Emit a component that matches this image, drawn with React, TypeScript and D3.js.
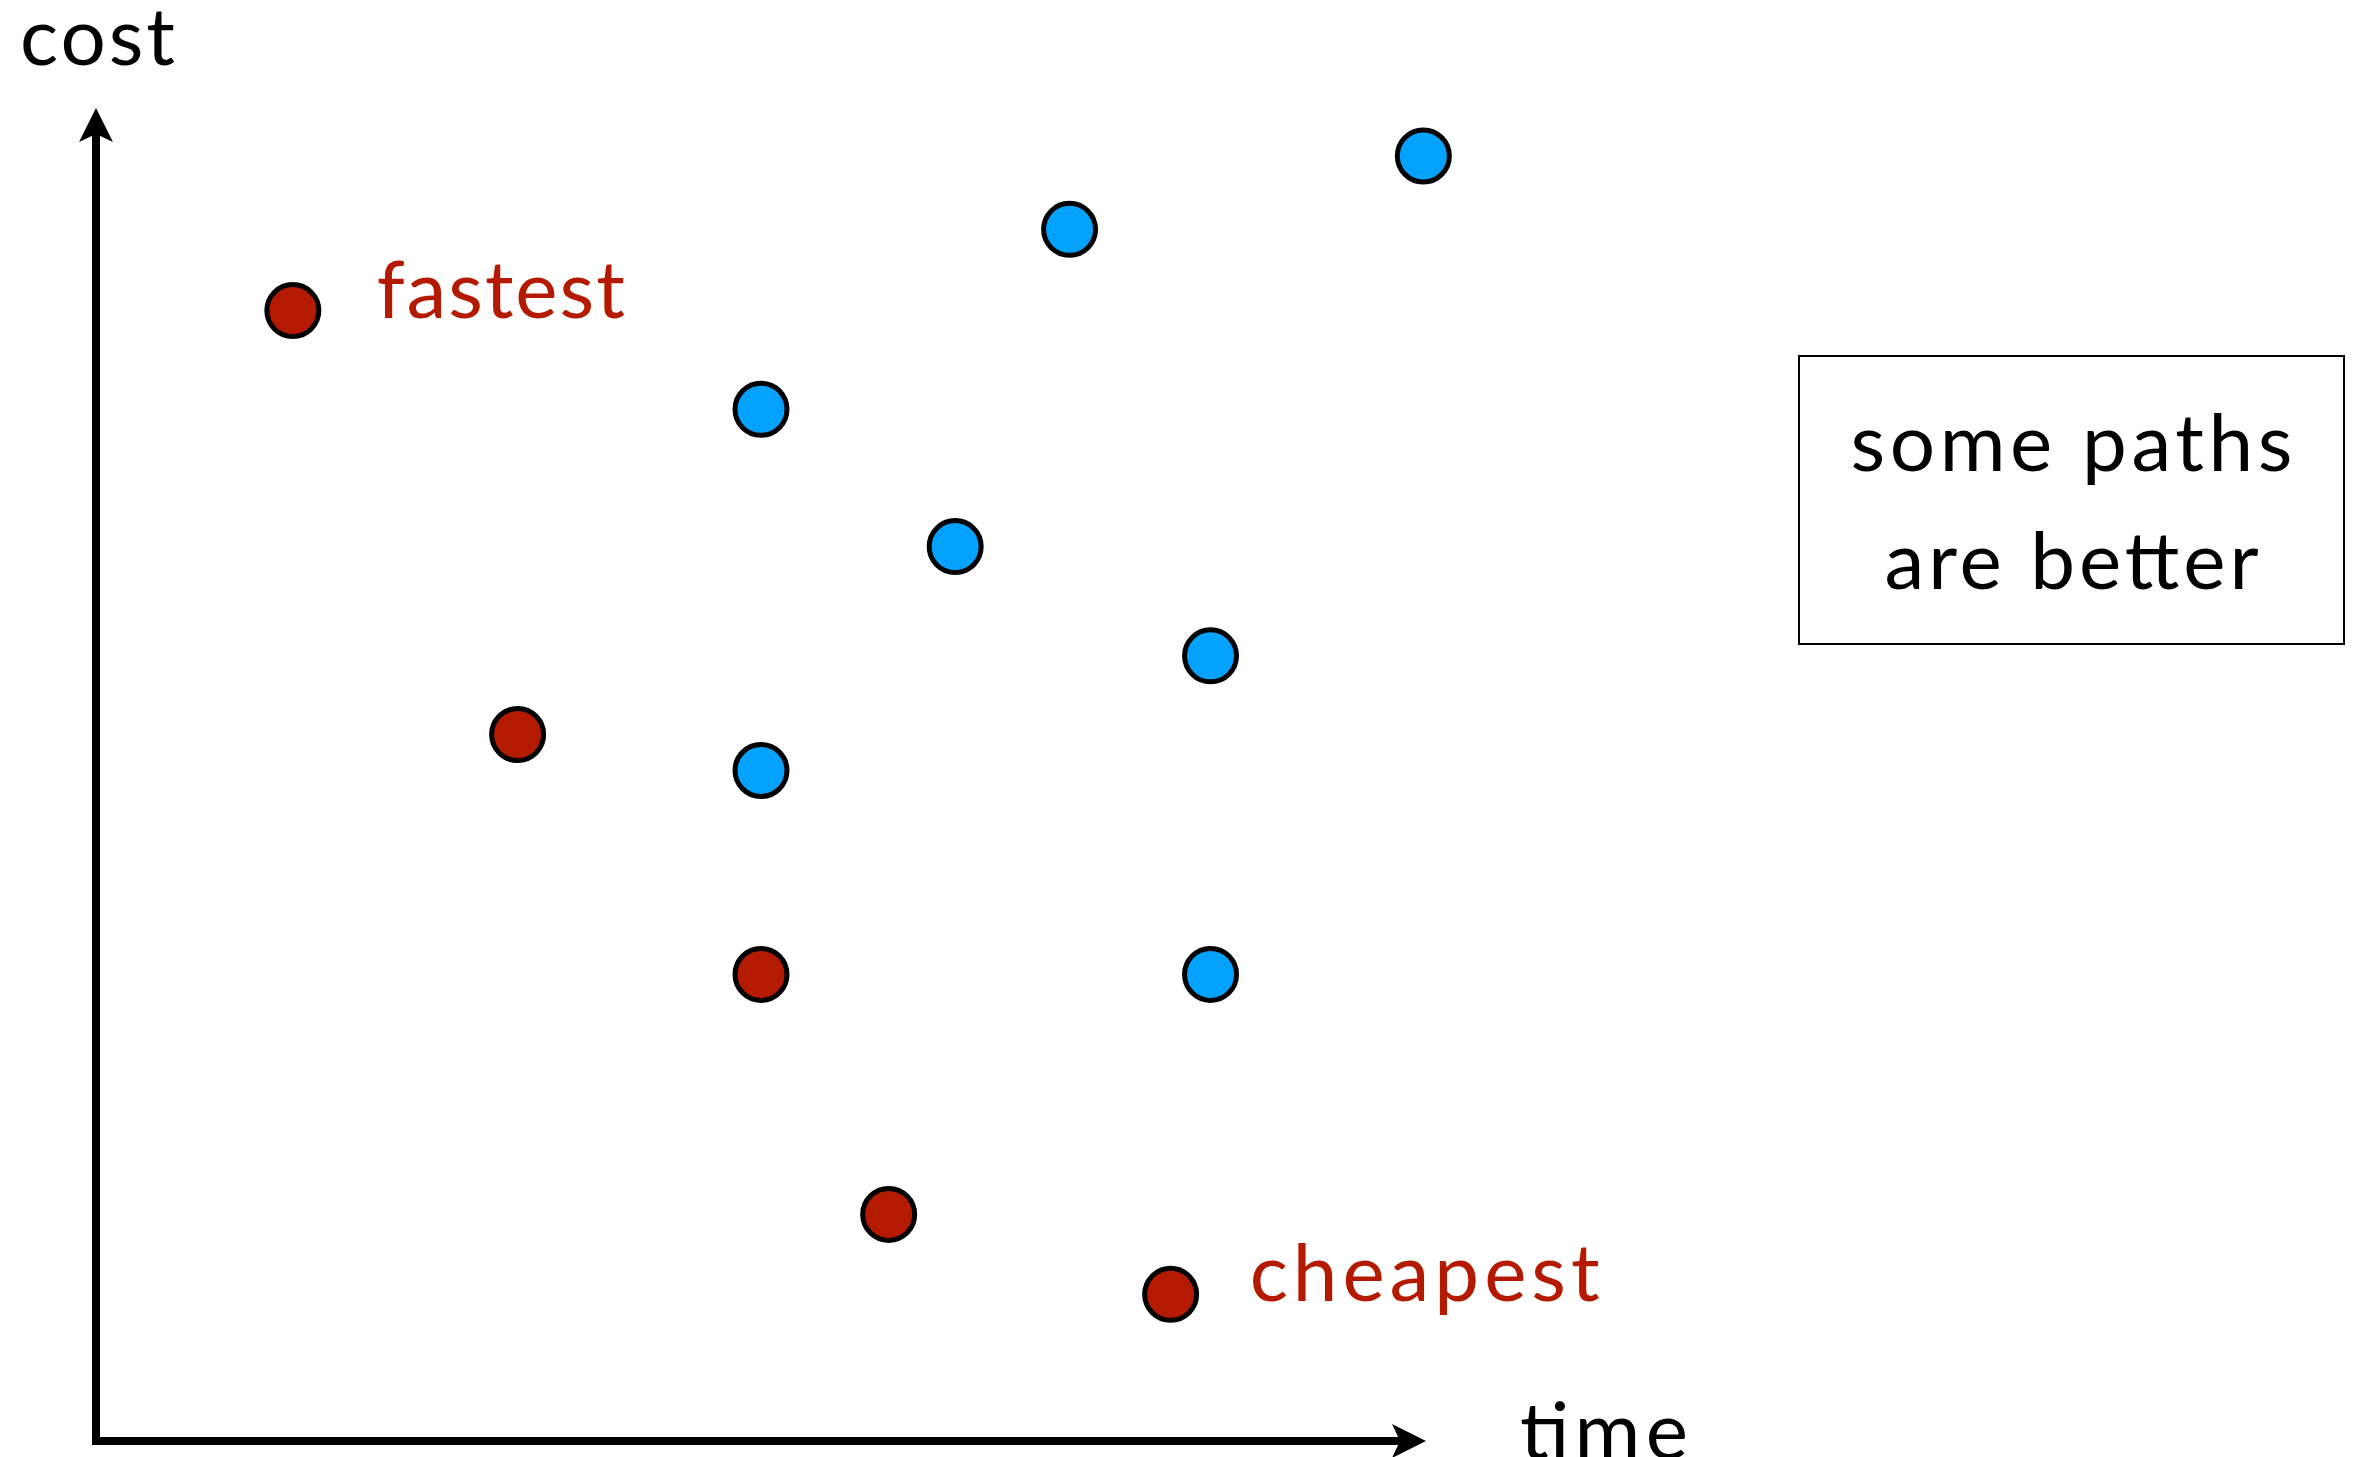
import React from "react";
import * as d3 from "d3";

// Data (abstract units: time 0-100, cost 0-100)
const redTime = [14.8, 31.7, 50.0, 59.6, 80.8];
const redCost = [84.8, 53.0, 35.0, 17.0, 11.0];
const blueTime = [99.8, 73.2, 50.0, 64.6, 83.8, 50.0, 83.8];
const blueCost = [96.4, 90.9, 77.4, 67.1, 58.9, 50.3, 35.0];
const labels = [
  { text: "fastest", idx: 0 },
  { text: "cheapest", idx: 4 },
];
const boxLines = ["some paths", "are better"];
const axisLabels = { x: "time", y: "cost" };

const W = 2358;
const H = 1457;
const RED = "#B41A00";
const BLUE = "#02A2FD";
const FONT = "Lato, 'Noto Sans', sans-serif";

// measured widths of the words (for letter spacing to match the original typeface)
const textWidths: Record<string, number> = {
  cost: 155,
  time: 168,
  fastest: 248,
  cheapest: 350,
  "some paths": 442,
  "are better": 374,
};

export default function App() {
  const x = d3.scaleLinear().domain([0, 100]).range([96, 1426]);
  const y = d3.scaleLinear().domain([0, 100]).range([1441, 108]);
  const x0 = x(0);
  const y0 = y(0);
  const xTip = x(100);
  const yTip = y(100);
  const head = 34;
  const half = 17;
  const notch = 8;

  const yArrow = `M${x0},${yTip} L${x0 + half},${yTip + head} L${x0},${yTip + head - notch} L${x0 - half},${yTip + head} Z`;
  const xArrow = `M${xTip},${y0} L${xTip - head},${y0 - half} L${xTip - head + notch},${y0} L${xTip - head},${y0 + half} Z`;

  const r = 26;
  const fs = 80;

  const box = { x: 1799, y: 356, w: 545, h: 288 };

  return (
    <svg
      width={W}
      height={H}
      style={{ position: "absolute", left: 0, top: 0, background: "#fff" }}
    >
      <rect x={0} y={0} width={W} height={H} fill="#fff" />
      {/* axes */}
      <line x1={x0} y1={y0 + 4} x2={x0} y2={yTip + head - notch} stroke="#000" strokeWidth={8} />
      <line x1={x0 - 4} y1={y0} x2={xTip - head + notch} y2={y0} stroke="#000" strokeWidth={8} />
      <path d={yArrow} fill="#000" />
      <path d={xArrow} fill="#000" />
      <text x={20} y={65} fontFamily={FONT} fontSize={fs} fill="#000" textLength={textWidths.cost} lengthAdjust="spacing">
        {axisLabels.y}
      </text>
      <text x={1520} y={1459} fontFamily={FONT} fontSize={fs} fill="#000" textLength={textWidths.time} lengthAdjust="spacing">
        {axisLabels.x}
      </text>

      {/* blue points */}
      {blueTime.map((t, i) => (
        <circle key={"b" + i} cx={x(t)} cy={y(blueCost[i])} r={r} fill={BLUE} stroke="#000" strokeWidth={5} />
      ))}
      {/* red points */}
      {redTime.map((t, i) => (
        <circle key={"r" + i} cx={x(t)} cy={y(redCost[i])} r={r} fill={RED} stroke="#000" strokeWidth={5} />
      ))}
      {labels.map((l, i) => (
        <text
          key={l.text}
          x={x(redTime[l.idx]) + (i === 0 ? 84 : 79)}
          y={y(redCost[l.idx]) + 7}
          fontFamily={FONT}
          fontSize={fs}
          fill={RED}
          textLength={textWidths[l.text]}
          lengthAdjust="spacing"
        >
          {l.text}
        </text>
      ))}

      {/* annotation box */}
      <rect x={box.x} y={box.y} width={box.w} height={box.h} fill="none" stroke="#000" strokeWidth={2} />
      {boxLines.map((s, i) => (
        <text
          key={s}
          x={box.x + box.w / 2}
          y={471 + i * 118}
          textAnchor="middle"
          fontFamily={FONT}
          fontSize={fs}
          fill="#000"
          textLength={textWidths[s]}
          lengthAdjust="spacing"
        >
          {s}
        </text>
      ))}
    </svg>
  );
}
